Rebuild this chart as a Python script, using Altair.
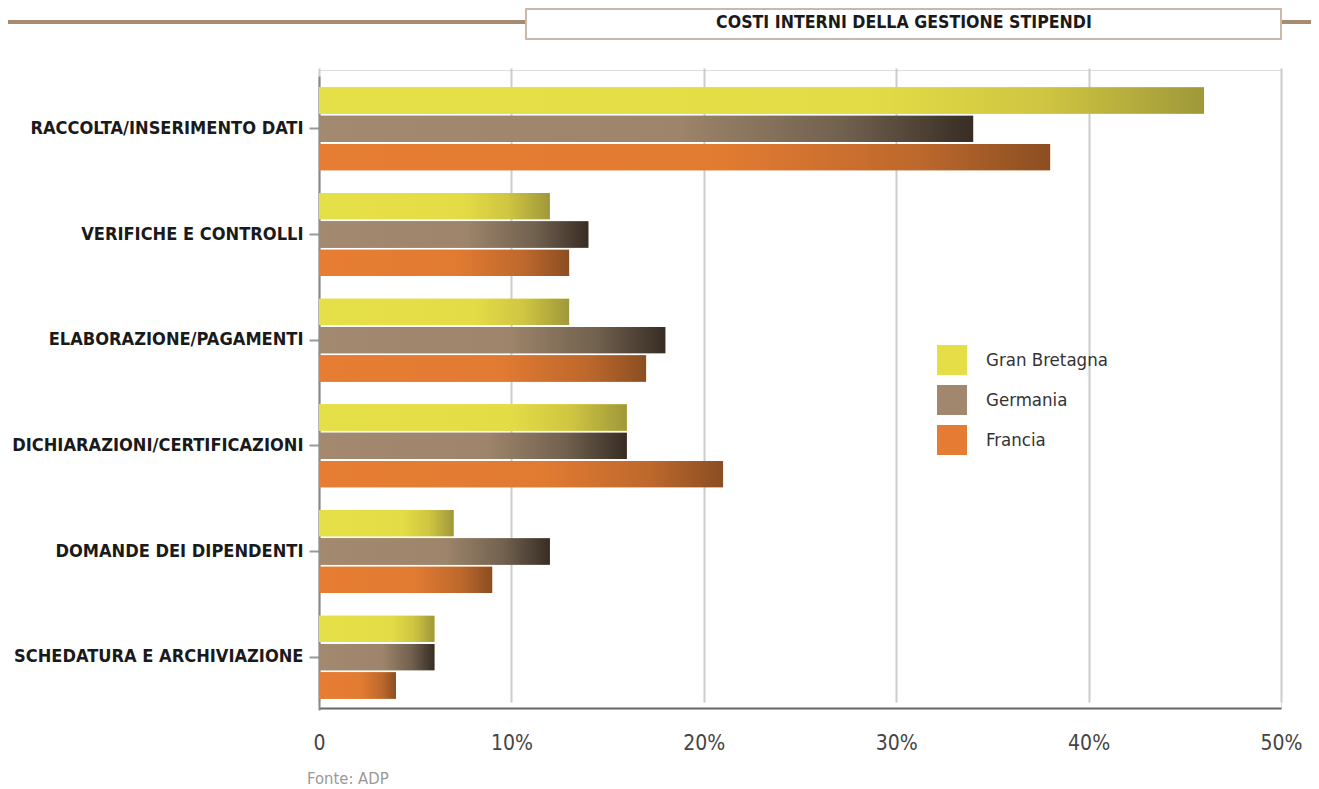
import altair as alt
import pandas as pd

# ---- data ----
categories = [
    "RACCOLTA/INSERIMENTO DATI",
    "VERIFICHE E CONTROLLI",
    "ELABORAZIONE/PAGAMENTI",
    "DICHIARAZIONI/CERTIFICAZIONI",
    "DOMANDE DEI DIPENDENTI",
    "SCHEDATURA E ARCHIVIAZIONE",
]
series = ["Gran Bretagna", "Germania", "Francia"]
gran_bretagna = [46, 12, 13, 16, 7, 6]
germania = [34, 14, 18, 16, 12, 6]
francia = [38, 13, 17, 21, 9, 4]
x_ticks = [0, 10, 20, 30, 40, 50]
title_text = "COSTI INTERNI DELLA GESTIONE STIPENDI"
source_text = "Fonte: ADP"

base_colors = ["#e5de46", "#a0876d", "#e47c33"]

rows = []
for s, vals in zip(series, [gran_bretagna, germania, francia]):
    for c, v in zip(categories, vals):
        rows.append({"cat": c, "serie": s, "val": v})
df = pd.DataFrame(rows)

LABEL_FONT = "DejaVu Sans Condensed"
W, H = 962, 638


def grad(stops):
    return alt.LinearGradient(
        gradient="linear",
        x1=0, x2=1, y1=0, y2=0,
        stops=[alt.GradientStop(color=c, offset=o) for o, c in stops],
    )


gradients = {
    "Gran Bretagna": grad([(0, "#e6e048"), (0.62, "#e4dc46"), (0.82, "#cfc541"), (1, "#9f983a")]),
    "Germania": grad([(0, "#a3896f"), (0.55, "#9d846a"), (0.8, "#71614f"), (1, "#382d24")]),
    "Francia": grad([(0, "#e67d33"), (0.55, "#e27b32"), (0.82, "#bd682c"), (1, "#8b4e22")]),
}

y_enc = alt.Y(
    "cat:N",
    sort=categories,
    scale=alt.Scale(range=[6, 640], paddingInner=0, paddingOuter=0),
    axis=alt.Axis(
        title=None,
        labelFont=LABEL_FONT,
        labelFontWeight="bold",
        labelFontSize=18.1,
        labelColor="#1a1a1a",
        labelPadding=6,
        labelLimit=0,
        tickColor="#999999",
        tickSize=10,
        tickWidth=2,
        domainColor="#888888",
        domainWidth=2,
        grid=False,
    ),
)
yoff_enc = alt.YOffset(
    "serie:N", sort=series, scale=alt.Scale(domain=series, paddingInner=0.07, paddingOuter=0.40)
)
x_enc = alt.X(
    "val:Q",
    scale=alt.Scale(domain=[0, 50], nice=False),
    axis=alt.Axis(
        title=None,
        values=x_ticks,
        labelExpr="datum.value == 0 ? '0' : datum.value + '%'",
        labelFont=LABEL_FONT,
        labelFontSize=21,
        labelColor="#444444",
        labelPadding=24,
        ticks=False,
        domainColor="#666666",
        domainWidth=2,
        grid=True,
        gridColor="#cccccc",
        gridWidth=2,
        labelFlush=False,
    ),
)

base = alt.Chart(df).mark_bar().encode(
    y=y_enc,
    yOffset=yoff_enc,
    x=x_enc,
    color=alt.Color(
        "serie:N",
        sort=series,
        scale=alt.Scale(domain=series, range=base_colors),
        legend=alt.Legend(
            title=None,
            orient="none",
            legendX=618,
            legendY=275,
            padding=0,
            symbolType="square",
            symbolSize=900,
            symbolStrokeWidth=0,
            labelFont=LABEL_FONT,
            labelFontSize=18.5,
            labelColor="#333333",
            labelOffset=19,
            rowPadding=10,
        ),
    ),
)

grad_layers = [
    alt.Chart(df)
    .transform_filter(alt.datum.serie == s)
    .mark_bar(color=gradients[s])
    .encode(y=y_enc, yOffset=yoff_enc, x=x_enc)
    for s in series
]

one = pd.DataFrame({"t": [title_text]})
line_color = "#a68b71"
left_line = alt.Chart(one).mark_rule(color=line_color, strokeWidth=4).encode(
    x=alt.value(-330), x2=alt.value(206), y=alt.value(-48)
)
right_line = alt.Chart(one).mark_rule(color=line_color, strokeWidth=4).encode(
    x=alt.value(962), x2=alt.value(1010), y=alt.value(-48)
)
box = alt.Chart(one).mark_rect(fill="white", stroke="#c8b9a8", strokeWidth=2).encode(
    x=alt.value(207), x2=alt.value(962), y=alt.value(-61), y2=alt.value(-31)
)
title = alt.Chart(one).mark_text(
    font=LABEL_FONT, fontWeight="bold", fontSize=17.6, color="#1a1a1a", align="center", baseline="middle"
).encode(x=alt.value(585), y=alt.value(-47), text="t:N")

src = alt.Chart(pd.DataFrame({"t": [source_text]})).mark_text(
    font=LABEL_FONT, fontSize=16.5, color="#999999", align="left", baseline="middle"
).encode(x=alt.value(-12), y=alt.value(709), text="t:N")

chart = (
    alt.layer(base, *grad_layers, left_line, right_line, box, title, src)
    .properties(
        width=W,
        height=H,
        autosize=alt.AutoSizeParams(type="none"),
        padding={"left": 311, "top": 62, "right": 30, "bottom": 80},
    )
    .configure_view(stroke="transparent")
    .configure(background="white")
)

chart.save("out.html", embed_options={"renderer": "svg", "actions": False})
